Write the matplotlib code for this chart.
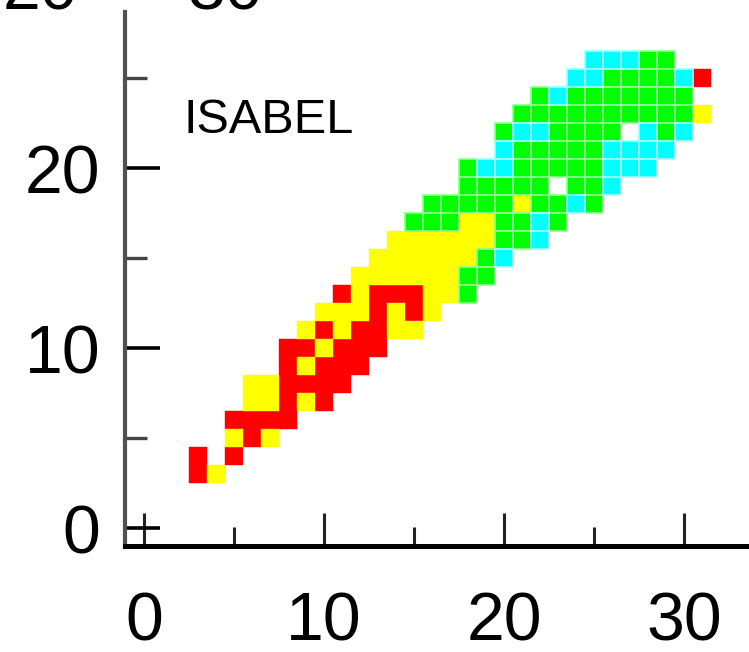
import matplotlib
matplotlib.use("Agg")
import matplotlib.pyplot as plt

plt.rcParams["font.family"] = ["Liberation Sans", "DejaVu Sans"]

# one grid row per y value: first x of the row, then one code per cell
# (R red, Y yellow, G green, C cyan, . empty)
ROW_Y = [26, 25, 24, 23, 22, 21, 20, 19, 18, 17, 16, 15,
         14, 13, 12, 11, 10, 9, 8, 7, 6, 5, 4, 3]
ROW_X0 = [25, 24, 22, 21, 20, 20, 18, 18, 16, 15, 14, 13,
          12, 11, 10, 9, 8, 8, 6, 6, 5, 5, 3, 3]
ROW_CODES = [
    "CCCGG",
    "CCGGGGCR",
    "GCGGGGGGG",
    "GGGGGGGGGGY",
    "GCCGGGG.CGC",
    "CGGGGGCCCC",
    "GCCGGGGGCCC",
    "GGGGG.GGC",
    "GGGGGYGGCG",
    "GGGYYGGCG",
    "YYYYYYGGC",
    "YYYYYYGC",
    "YYYYYYGG",
    "RYRRRYYG",
    "YYYRYRY",
    "YRYRRYY",
    "RRYRRR",
    "RYRRR",
    "YYRRRR",
    "YYRYR",
    "RRRR",
    "YRY",
    "R.R",
    "RY",
]
FILL = {"R": "#ff0000", "Y": "#ffff00", "G": "#00ff00", "C": "#00ffff"}
EDGE = {"R": "#ff0000", "Y": "#ffff00", "G": "#8cff8c", "C": "#a0ffff"}

XTICKS, XMINOR = [0, 10, 20, 30], [5, 15, 25]
YTICKS, YMINOR = [0, 10, 20], [5, 15, 25]
STORM = "ISABEL"
TOP_LABELS = ["20", "30"]

W, H = 749, 652
fig = plt.figure(figsize=(W / 100, H / 100), dpi=100)
ax = fig.add_axes([125 / W, (H - 546) / H, (W - 125) / W, (546 - 12) / H])

# gather cells per colour
cells = {k: ([], []) for k in FILL}
for y, x0, codes in zip(ROW_Y, ROW_X0, ROW_CODES):
    for k, c in enumerate(codes):
        if c in FILL:
            cells[c][0].append(x0 + k)
            cells[c][1].append(y)

for c in ["R", "Y", "G", "C"]:
    xs, ys = cells[c]
    lw = 1.2 if c in "GC" else 0.3
    ax.bar(xs, 1, bottom=[v - 0.5 for v in ys], width=1, color=FILL[c],
           edgecolor=EDGE[c], linewidth=lw, zorder=2)

ax.set_xlim(-19 / 18, -19 / 18 + 624 / 18)
ax.set_ylim(-1, 28.667)

for s in ["top", "right"]:
    ax.spines[s].set_visible(False)
ax.spines["left"].set_color("#505050")
ax.spines["left"].set_linewidth(3)
ax.spines["bottom"].set_color("black")
ax.spines["bottom"].set_linewidth(3.6)

ax.set_xticks(XTICKS)
ax.set_xticks(XMINOR, minor=True)
ax.set_yticks(YTICKS)
ax.set_yticks(YMINOR, minor=True)
ax.tick_params(axis="x", which="major", direction="in", length=24, width=2.2,
               color="#222222", labelsize=49, pad=32)
ax.tick_params(axis="x", which="minor", direction="in", length=14, width=2.2,
               color="#222222")
ax.tick_params(axis="y", which="major", direction="in", length=25, width=2.6,
               color="black", labelsize=49, pad=18)
ax.tick_params(axis="y", which="minor", direction="in", length=16, width=2.4,
               color="#444444")

ax.text(2.17, 21.94, STORM, fontsize=35, ha="left", va="baseline", zorder=3)

# tick labels of the panel above, cut off by the top edge
for lab, px in zip(TOP_LABELS, [40, 225]):
    fig.text(px / W, (H - 10) / H, lab, fontsize=49, ha="center", va="baseline")

fig.savefig("out.png", dpi=100)
